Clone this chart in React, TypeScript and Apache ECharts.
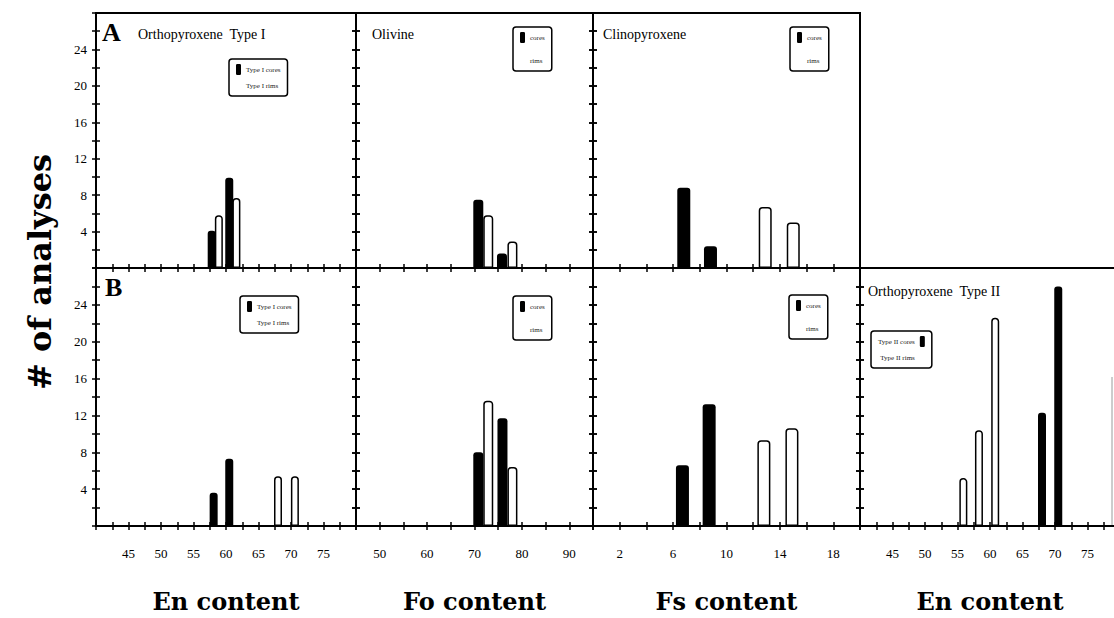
import React, { useEffect, useRef } from "react";
import * as echarts from "echarts";

// ---- tick label lists ----
const enTicks = [45, 50, 55, 60, 65, 70, 75];
const foTicks = [50, 60, 70, 80, 90];
const fsTicks = [2, 6, 10, 14, 18];
const countTicks = [4, 8, 12, 16, 20, 24];

// ---- data: [bar position on axis, # of analyses] ----
// Row A
const opxI_A_cores = [[57.8, 4.1], [60.5, 9.9]];
const opxI_A_rims = [[58.9, 5.8], [61.6, 7.7]];
const ol_A_cores = [[70.8, 7.5], [75.8, 1.6]];
const ol_A_rims = [[72.9, 5.8], [78.0, 2.9]];
const cpx_A_cores = [[6.8, 8.8], [8.8, 2.4]];
const cpx_A_rims = [[12.9, 6.7], [15.0, 5.0]];
// Row B
const opxI_B_cores = [[58.1, 3.6], [60.5, 7.3]];
const opxI_B_rims = [[68.0, 5.4], [70.6, 5.4]];
const ol_B_cores = [[70.8, 8.0], [75.9, 11.7]];
const ol_B_rims = [[72.9, 13.6], [78.0, 6.4]];
const cpx_B_cores = [[6.7, 6.6], [8.7, 13.2]];
const cpx_B_rims = [[12.8, 9.3], [14.9, 10.6]];
const opxII_cores = [[68.0, 12.3], [70.5, 26.0]];
const opxII_rims = [[55.9, 5.2], [58.3, 10.4], [60.8, 22.6]];

const SERIF = "Liberation Serif";
const HEAVY = "DejaVu Serif";

type Panel = {
  grid: { left: number; top: number; width: number; height: number };
  min: number; max: number; interval: number; labels: number[];
  name: string; bottom: boolean; yLabels: boolean; barWidth: number;
  cores: number[][]; rims: number[][]; coreName: string; rimName: string;
  rightTicks: boolean;
};

const panels: Panel[] = [
  { grid: { left: 96, top: 13, width: 260, height: 255 }, min: 40, max: 80, interval: 2.5, labels: enTicks, name: "", bottom: false, yLabels: true, barWidth: 8, cores: opxI_A_cores, rims: opxI_A_rims, coreName: "Type I cores", rimName: "Type I rims", rightTicks: true },
  { grid: { left: 356, top: 13, width: 237, height: 255 }, min: 45, max: 95, interval: 5, labels: foTicks, name: "", bottom: false, yLabels: false, barWidth: 10, cores: ol_A_cores, rims: ol_A_rims, coreName: "cores", rimName: "rims", rightTicks: true },
  { grid: { left: 593, top: 13, width: 267, height: 255 }, min: 0, max: 20, interval: 2, labels: fsTicks, name: "", bottom: false, yLabels: false, barWidth: 13, cores: cpx_A_cores, rims: cpx_A_rims, coreName: "cores", rimName: "rims", rightTicks: false },
  { grid: { left: 96, top: 268, width: 260, height: 258 }, min: 40, max: 80, interval: 2.5, labels: enTicks, name: "En content", bottom: true, yLabels: true, barWidth: 8, cores: opxI_B_cores, rims: opxI_B_rims, coreName: "Type I cores", rimName: "Type I rims", rightTicks: true },
  { grid: { left: 356, top: 268, width: 237, height: 258 }, min: 45, max: 95, interval: 5, labels: foTicks, name: "Fo content", bottom: true, yLabels: false, barWidth: 10, cores: ol_B_cores, rims: ol_B_rims, coreName: "cores", rimName: "rims", rightTicks: true },
  { grid: { left: 593, top: 268, width: 267, height: 258 }, min: 0, max: 20, interval: 2, labels: fsTicks, name: "Fs content", bottom: true, yLabels: false, barWidth: 13, cores: cpx_B_cores, rims: cpx_B_rims, coreName: "cores", rimName: "rims", rightTicks: true },
  { grid: { left: 860, top: 268, width: 260, height: 258 }, min: 40, max: 80, interval: 2.5, labels: enTicks, name: "En content", bottom: true, yLabels: false, barWidth: 8, cores: opxII_cores, rims: opxII_rims, coreName: "Type II cores", rimName: "Type II rims", rightTicks: false },
];

const legendBoxes = [
  { left: 229, top: 59, names: ["Type I cores", "Type I rims"], align: "left", gap: 5 },
  { left: 240, top: 296, names: ["Type I cores", "Type I rims"], align: "left", gap: 5 },
  { left: 513, top: 27, names: ["cores", "rims"], align: "left", gap: 12 },
  { left: 513, top: 296, names: ["cores", "rims"], align: "left", gap: 12 },
  { left: 790, top: 27, names: ["cores", "rims"], align: "left", gap: 12 },
  { left: 789, top: 295, names: ["cores", "rims"], align: "left", gap: 12 },
  { left: 871, top: 331, names: ["Type II cores", "Type II rims"], align: "right", gap: 5 },
];

const panelTitles = [
  { x: 138, y: 27, text: "Orthopyroxene  Type I" },
  { x: 372, y: 27, text: "Olivine" },
  { x: 603, y: 27, text: "Clinopyroxene" },
  { x: 868, y: 284, text: "Orthopyroxene  Type II" },
];

export default function App() {
  const ref = useRef<HTMLDivElement>(null);
  useEffect(() => {
    if (!ref.current) return;
    const chart = echarts.init(ref.current, undefined, { renderer: "svg" });

    const grid: any[] = [];
    const xAxis: any[] = [];
    const yAxis: any[] = [];
    const series: any[] = [];
    const line = { color: "#000", width: 2 };
    const tickStyle = { color: "#000", width: 1.5 };

    panels.forEach((p, i) => {
      grid.push({ ...p.grid, show: true, borderColor: "#000", borderWidth: 2, backgroundColor: "transparent", containLabel: false, outerBoundsMode: "none" });
      const xMain = xAxis.length;
      xAxis.push({
        type: "value", gridIndex: i, min: p.min, max: p.max, interval: p.interval, position: "bottom",
        axisLine: { show: true, onZero: false, lineStyle: line },
        axisTick: { show: true, length: 4, lineStyle: tickStyle },
        splitLine: { show: false },
        axisLabel: {
          show: p.bottom, margin: 21, fontFamily: SERIF, fontSize: 13, color: "#000",
          showMinLabel: true, showMaxLabel: true,
          formatter: (v: number) => (p.labels.indexOf(v) >= 0 ? String(v) : ""),
        },
        name: p.name, nameLocation: "middle", nameGap: 63,
        nameTextStyle: { fontFamily: HEAVY, fontWeight: "bold", fontSize: 24, color: "#000" },
      });
      xAxis.push({
        type: "value", gridIndex: i, min: p.min, max: p.max, interval: p.interval, position: "bottom",
        axisLine: { show: false, onZero: false }, axisLabel: { show: false }, splitLine: { show: false },
        axisTick: { show: true, inside: true, length: 4, lineStyle: tickStyle },
      });
      const yMain = yAxis.length;
      yAxis.push({
        type: "value", gridIndex: i, min: 0, max: 28, interval: 2, position: "left",
        axisLine: { show: true, onZero: false, lineStyle: line },
        axisTick: { show: true, length: 4, lineStyle: tickStyle },
        splitLine: { show: false },
        axisLabel: {
          show: p.yLabels, margin: 9, fontFamily: SERIF, fontSize: 13, color: "#000",
          formatter: (v: number) => (countTicks.indexOf(v) >= 0 ? String(v) : ""),
        },
      });
      yAxis.push({
        type: "value", gridIndex: i, min: 0, max: 28, interval: 2, position: "left",
        axisLine: { show: false, onZero: false }, axisLabel: { show: false }, splitLine: { show: false },
        axisTick: { show: true, inside: true, length: 4, lineStyle: tickStyle },
      });
      if (p.rightTicks) {
        yAxis.push({
          type: "value", gridIndex: i, min: 0, max: 28, interval: 2, position: "right",
          axisLine: { show: true, onZero: false, lineStyle: line }, axisLabel: { show: false }, splitLine: { show: false },
          axisTick: { show: true, length: 4, lineStyle: tickStyle },
        });
        yAxis.push({
          type: "value", gridIndex: i, min: 0, max: 28, interval: 2, position: "right",
          axisLine: { show: false, onZero: false }, axisLabel: { show: false }, splitLine: { show: false },
          axisTick: { show: true, inside: true, length: 4, lineStyle: tickStyle },
        });
      }
      series.push({
        type: "bar", name: p.coreName, xAxisIndex: xMain, yAxisIndex: yMain, data: p.cores,
        barWidth: p.barWidth, barGap: "-100%",
        itemStyle: { color: "#000", borderRadius: [3, 3, 0, 0] },
      });
      series.push({
        type: "bar", name: p.rimName, xAxisIndex: xMain, yAxisIndex: yMain, data: p.rims,
        barWidth: p.barWidth, barGap: "-100%",
        itemStyle: { color: "#fff", borderColor: "#000", borderWidth: 1.5, borderRadius: [3, 3, 0, 0] },
      });
    });

    const legend = legendBoxes.map((b) => ({
      left: b.left, top: b.top, orient: "vertical", align: b.align,
      data: [
        { name: b.names[0], icon: "roundRect" },
        { name: b.names[1], icon: "rect", itemStyle: { color: "#fff", borderWidth: 0 } },
      ],
      itemWidth: 5, itemHeight: 11, itemGap: b.gap,
      padding: [5, 7, 5, 7], borderColor: "#000", borderWidth: 1.5, borderRadius: 3,
      backgroundColor: "#fff", selectedMode: false,
      textStyle: { fontFamily: SERIF, fontSize: 7, color: "#222" },
    }));

    const graphic: any[] = [
      { type: "text", x: 102, y: 19, style: { text: "A", fontFamily: SERIF, fontWeight: "bold", fontSize: 26, fill: "#000" } },
      { type: "text", x: 105, y: 274, style: { text: "B", fontFamily: SERIF, fontWeight: "bold", fontSize: 26, fill: "#000" } },
      ...panelTitles.map((t) => ({ type: "text", x: t.x, y: t.y, style: { text: t.text, fontFamily: SERIF, fontSize: 14, fill: "#000" } })),
      { type: "text", x: 40, y: 272, rotation: Math.PI / 2, style: { text: "# of analyses", fontFamily: HEAVY, fontWeight: "bold", fontSize: 32, fill: "#000", align: "center", verticalAlign: "middle" } },
      { type: "line", shape: { x1: 1112, y1: 377, x2: 1112, y2: 526 }, style: { stroke: "#9a9a9a", lineWidth: 1 } },
    ];

    chart.setOption({
      animation: false,
      backgroundColor: "#fff",
      grid, xAxis, yAxis, series, legend, graphic,
    });
    return () => chart.dispose();
  }, []);
  return <div ref={ref} style={{ position: "absolute", left: 0, top: 0, width: 1114, height: 618 }} />;
}
